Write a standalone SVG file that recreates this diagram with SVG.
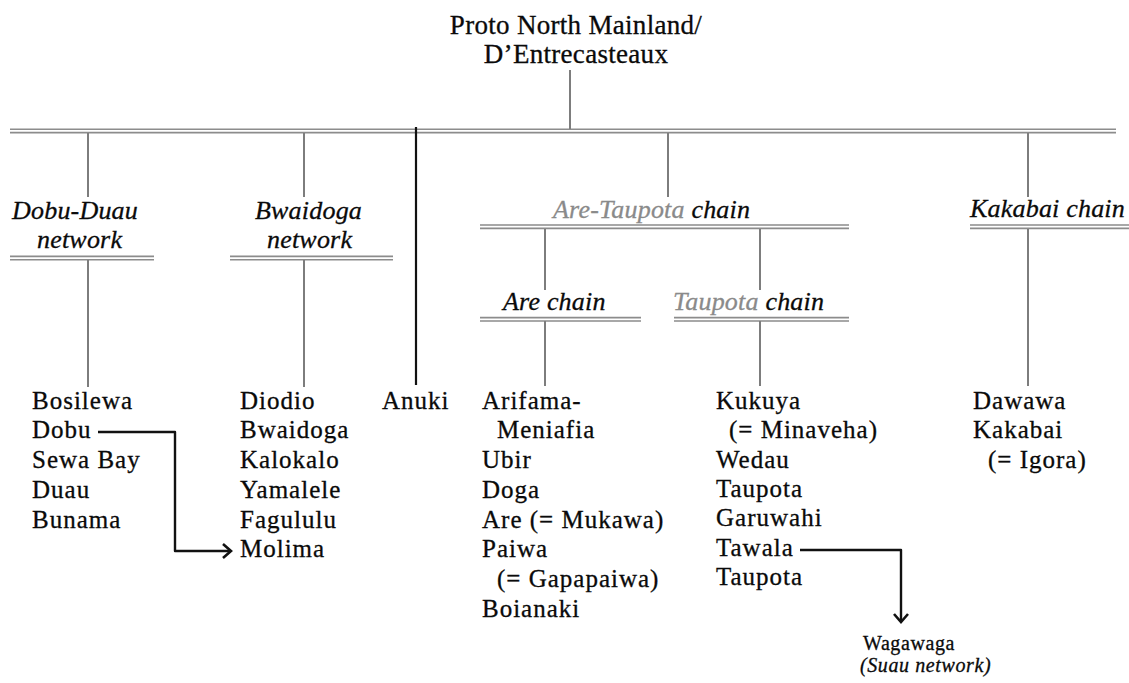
<svg xmlns="http://www.w3.org/2000/svg" width="1129" height="683" viewBox="0 0 1129 683">
  <style>
    .t { font-family: "Liberation Serif", "Times New Roman", serif; font-size: 25px; letter-spacing: 1px; fill: #0a0a0a; stroke: #0a0a0a; stroke-width: 0.3; }
    .ti { font-family: "Liberation Serif", "Times New Roman", serif; font-size: 26px; font-style: italic; letter-spacing: 0.2px; fill: #0a0a0a; stroke: #0a0a0a; stroke-width: 0.3; }
    .ttl { font-size: 27px; letter-spacing: 0.3px; }
    .sm { font-size: 20px; letter-spacing: 0.6px; }
    .grey { fill: #8a8a8a; stroke: #8a8a8a; }
    .bar { stroke: #8c8c8c; stroke-width: 1.6; fill: none; }
    .drop { stroke: #7d7d7d; stroke-width: 2; fill: none; }
    .link { stroke: #111; stroke-width: 2.4; fill: none; stroke-linejoin: round; }
    .head { stroke: #111; stroke-width: 2.6; fill: none; stroke-linejoin: miter; }
  </style>
  <rect width="1129" height="683" fill="#ffffff"/>

  <g id="connectors">
    <!-- double bars -->
    <g class="bar">
      <path d="M10,129.2 H1116 M10,132.6 H1116"/>
      <path d="M10,256.4 H154 M10,259.8 H154"/>
      <path d="M230,256.4 H393 M230,259.8 H393"/>
      <path d="M480,225 H849 M480,228.4 H849"/>
      <path d="M970,225 H1129 M970,228.4 H1129"/>
      <path d="M480,317.6 H641 M480,321 H641"/>
      <path d="M674,317.6 H849 M674,321 H849"/>
    </g>
    <!-- vertical drops -->
    <g class="drop">
      <path d="M570,70 V129"/>
      <path d="M88,133 V197 M88,260 V387"/>
      <path d="M304,133 V197 M304,260 V387"/>
      <path d="M668,133 V197"/>
      <path d="M545,229 V290 M760,229 V290"/>
      <path d="M545,321 V386 M760,321 V386"/>
      <path d="M1028,133 V197 M1028,229 V386"/>
    </g>
    <!-- Anuki branch -->
    <path d="M416,127 V385" stroke="#111" stroke-width="2.2"/>
    <!-- borrowing arrows -->
    <path class="link" d="M98,432 H175 V551 H231"/>
    <path class="head" d="M223,544 L231,551 L223,558"/>
    <path class="link" d="M800,550 H901 V622"/>
    <path class="head" d="M894,614 L901,622 L908,614"/>
  </g>

  <g id="root">
    <text class="t ttl" x="576" y="34" text-anchor="middle">Proto North Mainland/</text>
    <text class="t ttl" x="576" y="63" text-anchor="middle">D’Entrecasteaux</text>
  </g>

  <g id="dobu-duau">
    <text class="ti" x="12" y="219">Dobu-Duau</text>
    <text class="ti" x="37" y="248">network</text>
    <text class="t" x="32" y="408.5">Bosilewa</text>
    <text class="t" x="32" y="438.3">Dobu</text>
    <text class="t" x="32" y="468">Sewa Bay</text>
    <text class="t" x="32" y="497.8">Duau</text>
    <text class="t" x="32" y="527.5">Bunama</text>
  </g>

  <g id="bwaidoga">
    <text class="ti" x="255" y="219">Bwaidoga</text>
    <text class="ti" x="267" y="248">network</text>
    <text class="t" x="240" y="408.5">Diodio</text>
    <text class="t" x="240" y="438.3">Bwaidoga</text>
    <text class="t" x="240" y="468">Kalokalo</text>
    <text class="t" x="240" y="497.8">Yamalele</text>
    <text class="t" x="240" y="527.5">Fagululu</text>
    <text class="t" x="240" y="557.3">Molima</text>
  </g>

  <g id="anuki">
    <text class="t" x="382" y="408.5">Anuki</text>
  </g>

  <g id="are-taupota">
    <text class="ti" x="553" y="218"><tspan class="grey">Are-Taupota</tspan> chain</text>
  </g>

  <g id="are">
    <text class="ti" x="503" y="310">Are chain</text>
    <text class="t" x="482" y="408.5">Arifama-</text>
    <text class="t" x="497" y="438.3">Meniafia</text>
    <text class="t" x="482" y="468">Ubir</text>
    <text class="t" x="482" y="497.8">Doga</text>
    <text class="t" x="482" y="527.5">Are (= Mukawa)</text>
    <text class="t" x="482" y="557.3">Paiwa</text>
    <text class="t" x="497" y="587">(= Gapapaiwa)</text>
    <text class="t" x="482" y="616.8">Boianaki</text>
  </g>

  <g id="taupota">
    <text class="ti" x="673" y="310"><tspan class="grey">Taupota</tspan> chain</text>
    <text class="t" x="716" y="408.5">Kukuya</text>
    <text class="t" x="729" y="438">(= Minaveha)</text>
    <text class="t" x="716" y="467.5">Wedau</text>
    <text class="t" x="716" y="497">Taupota</text>
    <text class="t" x="716" y="526.3">Garuwahi</text>
    <text class="t" x="716" y="555.6">Tawala</text>
    <text class="t" x="716" y="585">Taupota</text>
  </g>

  <g id="kakabai">
    <text class="ti" x="970" y="217">Kakabai chain</text>
    <text class="t" x="973" y="408.5">Dawawa</text>
    <text class="t" x="973" y="438.3">Kakabai</text>
    <text class="t" x="988" y="468">(= Igora)</text>
  </g>

  <g id="wagawaga">
    <text class="t sm" x="863" y="650">Wagawaga</text>
    <text class="ti sm" x="860" y="672">(Suau network)</text>
  </g>
</svg>
